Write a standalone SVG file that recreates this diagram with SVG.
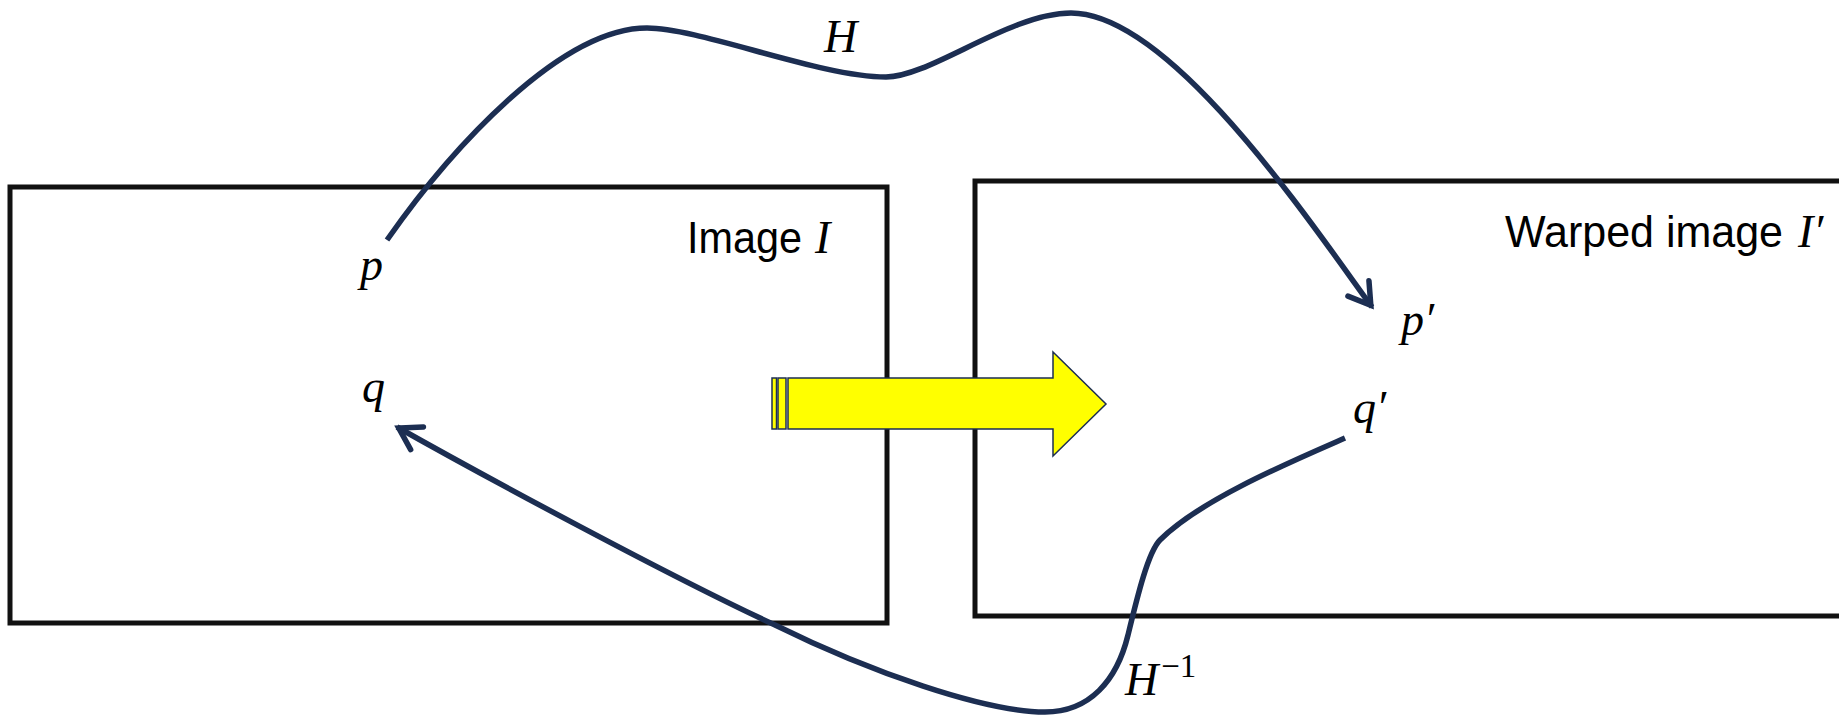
<svg xmlns="http://www.w3.org/2000/svg" width="1839" height="715" viewBox="0 0 1839 715">
  <style>
    .frame { fill: none; stroke: #111111; stroke-width: 5; }
    .label { font-family: "Liberation Sans", Arial, sans-serif; font-size: 44px; fill: #000; }
    .math { font-family: "Liberation Serif", "Times New Roman", serif; font-style: italic; font-size: 46px; fill: #000; }
    .up { font-style: normal; }
    .conn { fill: none; stroke: #1c2e52; stroke-width: 5.5; marker-end: url(#arr); }
    .block { fill: #ffff00; stroke: #1c2e52; stroke-width: 1.5; }
  </style>
  <defs>
    <marker id="arr" markerUnits="userSpaceOnUse" markerWidth="60" markerHeight="60" viewBox="-30 -30 60 60" refX="0" refY="0" orient="auto" overflow="visible">
      <path d="M-23,-13 L-2,0 L-23,13" fill="none" stroke="#1c2e52" stroke-width="5.5" stroke-linecap="round" stroke-linejoin="miter"/>
    </marker>
  </defs>

  <g id="image-I">
    <rect class="frame" x="10" y="187" width="877" height="436"/>
    <text class="label" x="687" y="253" textLength="115" lengthAdjust="spacingAndGlyphs">Image</text>
    <text class="math" x="815" y="253">I</text>
  </g>

  <g id="warped-image">
    <rect class="frame" x="975" y="181" width="900" height="435"/>
    <text class="label" x="1505" y="247" textLength="278" lengthAdjust="spacingAndGlyphs">Warped image</text>
    <text class="math" x="1798" y="247">I′</text>
  </g>

  <g id="warp-arrow">
    <rect class="block" x="772" y="378" width="4.5" height="51"/>
    <rect class="block" x="778" y="378" width="8" height="51"/>
    <polygon class="block" points="788,378 1053,378 1053,352 1106,404 1053,456 1053,429 788,429"/>
  </g>

  <g id="point-p"><text class="math" x="360" y="280">p</text></g>
  <g id="point-q"><text class="math" x="362" y="402">q</text></g>
  <g id="point-p-prime"><text class="math" x="1401" y="335">p′</text></g>
  <g id="point-q-prime"><text class="math" x="1353" y="423">q′</text></g>

  <g id="connectors">
    <path class="conn" d="M387,240 C450,150 560,28 647,28 C700,28 820,77 886,77 C930,77 1010,13 1071,13 C1170,13 1310,222 1372,307"/>
    <path class="conn" d="M1345,438 C1290,462 1200,500 1160,540 C1148,552 1137,598 1128,635 C1117,680 1090,712 1045,712 C985,712 870,672 775,625 C675,579 484,476 397,427"/>
    <text class="math" x="824" y="52">H</text>
    <text class="math" x="1125" y="695">H<tspan class="up" font-size="33" dx="3" dy="-18">−1</tspan></text>
  </g>
</svg>
